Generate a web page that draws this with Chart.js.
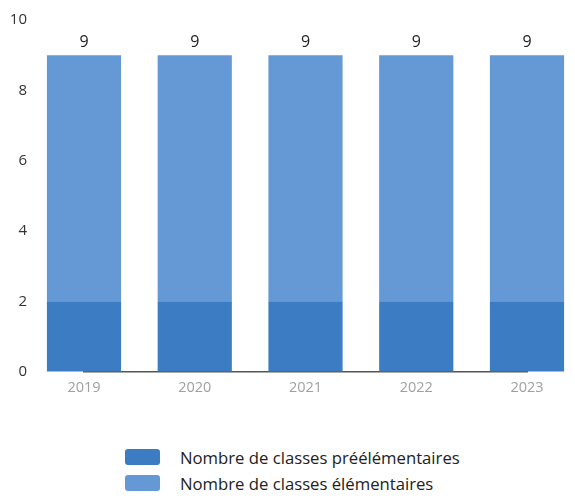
<!DOCTYPE html>
<html>
<head>
<meta charset="utf-8">
<script src="https://cdn.jsdelivr.net/npm/chart.js@4/dist/chart.umd.min.js"></script>
<style>
  html, body { margin: 0; padding: 0; background: #fff; overflow: hidden; }
  #wrap { position: relative; width: 575px; height: 503px; }
  #chart { position: absolute; left: 0; top: 0; }
  #legend { position: absolute; left: 125px; top: 444px; font-family: "Open Sans", sans-serif; font-size: 16.7px; color: #222; }
  .item { display: flex; align-items: center; height: 26px; }
  .swatch { width: 35px; height: 16px; border-radius: 3px; margin-right: 20px; }
</style>
</head>
<body>
<div id="wrap">
  <canvas id="chart" width="575" height="405"></canvas>
  <div id="legend"></div>
</div>
<script>
const years = ['2019', '2020', '2021', '2022', '2023'];
const preelementaires = [2, 2, 2, 2, 2];
const elementaires = [7, 7, 7, 7, 7];
const yTicks = [0, 2, 4, 6, 8, 10];

const darkBlue = '#3b7cc3';
const lightBlue = '#6499d6';

// total printed above each stack
const totalLabels = {
  id: 'totalLabels',
  afterDatasetsDraw(chart) {
    const ctx = chart.ctx;
    const top = chart.getDatasetMeta(chart.data.datasets.length - 1);
    ctx.save();
    ctx.font = '16px "Open Sans", sans-serif';
    ctx.fillStyle = '#222';
    ctx.textAlign = 'center';
    ctx.textBaseline = 'bottom';
    years.forEach((y, i) => {
      const total = chart.data.datasets.reduce((s, d) => s + d.data[i], 0);
      const bar = top.data[i];
      ctx.fillText(total, bar.x, bar.y - 5);
    });
    ctx.restore();
  }
};

const chart = new Chart(document.getElementById('chart'), {
  type: 'bar',
  data: {
    labels: years,
    datasets: [
      { label: 'Nombre de classes préélémentaires', data: preelementaires, backgroundColor: darkBlue },
      { label: 'Nombre de classes élémentaires', data: elementaires, backgroundColor: lightBlue }
    ]
  },
  options: {
    responsive: false,
    animation: false,
    layout: { padding: { top: 20, right: 48, bottom: 0, left: 0 } },
    datasets: { bar: { categoryPercentage: 1, barPercentage: 0.67, clip: false } },
    plugins: { legend: { display: false }, tooltip: { enabled: false } },
    scales: {
      x: {
        stacked: true,
        offset: false,
        grid: { display: false, drawTicks: false },
        border: { display: true, color: '#555', width: 1.5 },
        ticks: { color: '#a0a0a0', font: { family: 'Open Sans', size: 14.5 }, padding: 8 }
      },
      y: {
        stacked: true,
        min: 0,
        max: 10,
        afterFit(s) { s.width = 84; s.paddingTop = 10; s.paddingBottom = 10; },
        afterBuildTicks(s) { s.ticks = yTicks.map(v => ({ value: v })); },
        grid: { display: false, drawTicks: false, tickLength: 0 },
        border: { display: false },
        ticks: { color: '#333', font: { family: 'Open Sans', size: 15 }, padding: 57 }
      }
    }
  },
  plugins: [totalLabels]
});

document.getElementById('legend').innerHTML = chart.data.datasets.map(d =>
  `<div class="item"><span class="swatch" style="background:${d.backgroundColor}"></span>${d.label}</div>`
).join('');
</script>
</body>
</html>
